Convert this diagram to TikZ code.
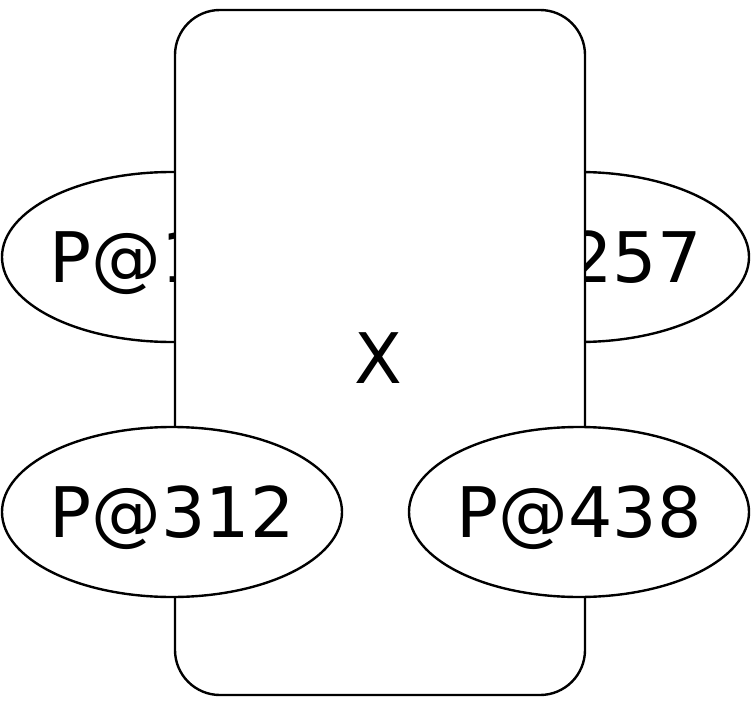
\documentclass[tikz,border=0pt]{standalone}
\usepackage{fontspec}
\setmainfont{DejaVu Sans}
\usetikzlibrary{shapes.geometric}

\begin{document}
\begin{tikzpicture}[x=1bp, y=-1bp,
    pin/.style={draw, ellipse, fill=white, line width=2.4pt, inner xsep=-10bp,
      inner ysep=0pt, text depth=0pt, minimum width=340bp, minimum height=170bp},
    part/.style={draw, rounded corners=45bp, fill=white, line width=2.4pt,
      minimum width=410bp, minimum height=685bp}]
  \useasboundingbox (0,0) rectangle (752,708);
  \fontsize{70}{84}\selectfont

  % Pins behind the part
  \node[pin] (p1) at (172,257) {P@1\phantom{00}};
  \node[pin] (p2) at (579,257) {\phantom{P@}257};

  % Part
  \node[part] (x) at (380,352.5) {};
  \node (xl) at (378,358) {X};

  % Pins in front of the part
  \node[pin] (p3) at (172,512) {P@312};
  \node[pin] (p4) at (579,512) {P@438};
\end{tikzpicture}
\end{document}
